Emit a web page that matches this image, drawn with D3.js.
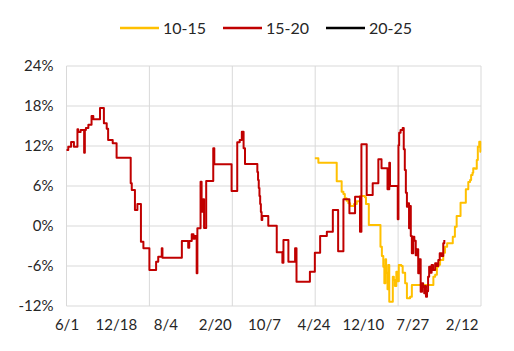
<!DOCTYPE html>
<html>
<head>
<meta charset="utf-8">
<script src="https://cdn.jsdelivr.net/npm/d3@7"></script>
<style>
  body { margin: 0; background: #fff; }
  text { font-family: Lato, "Open Sans", sans-serif; fill: #262626; }
</style>
</head>
<body>
<div id="chart"></div>
<script>
// trading-day category axis
const dayCount = 1176;
const tickLabels = ["6/1", "12/18", "8/4", "2/20", "10/7", "4/24", "12/10", "7/27", "2/12"];
const labelEvery = 140;
const gridEvery = 235;
const yTicks = [-12, -6, 0, 6, 12, 18, 24];

const seriesNames = ["10-15", "15-20", "20-25"];
const seriesColors = ["#FFC000", "#C00000", "#000000"];

// [day index, value %] - value holds until the next point
const s1015 = [
  [704, 10.15], [714, 9.5], [766, 6.7], [780, 5.15], [785, 4.8], [789, 4.15], [794, 3.8],
  [799, 3.4], [804, 3.0], [815, 3.3], [823, 3.7], [832, 4.5], [846, 4.3], [849, 3.3],
  [857, 0.15], [890, -3.1], [894, -4.5], [898, -6.1], [901, -8.6], [904, -5.0], [906, -7.0],
  [910, -9.5], [912, -5.85], [915, -11.35], [925, -7.6], [928, -8.1], [931, -9.0],
  [935, -6.85], [938, -8.3], [942, -5.85], [949, -6.0], [953, -7.0], [960, -8.6],
  [965, -10.85], [974, -10.6], [979, -8.85], [1040, -7.6], [1045, -7.3], [1050, -6.1],
  [1054, -5.8], [1059, -5.1], [1068, -4.0], [1073, -3.1], [1079, -2.6], [1095, -1.6],
  [1101, -0.1], [1106, 1.5], [1117, 3.5], [1132, 5.5], [1139, 6.6], [1144, 6.9],
  [1147, 7.65], [1151, 8.0], [1153, 8.65], [1158, 8.6], [1163, 9.9], [1166, 11.9],
  [1170, 12.65], [1173, 11.15], [1175, 11.15]
];

const s1520 = [
  [0, 11.4], [5, 11.9], [13, 12.6], [21, 11.9], [31, 14.5], [33, 14.1], [40, 14.4],
  [50, 11.0], [52, 14.4], [55, 14.7], [62, 15.2], [71, 16.5], [76, 16.0], [95, 17.7],
  [106, 15.4], [114, 14.6], [118, 12.9], [131, 12.4], [142, 10.25], [182, 6.4], [185, 5.4],
  [194, 2.4], [201, 3.3], [211, -2.35], [218, -3.35], [235, -6.6], [254, -5.35],
  [260, -4.6], [270, -3.35], [272, -4.75], [327, -2.25], [345, -3.25], [348, -2.25],
  [355, -1.25], [360, -1.9], [364, -1.5], [369, -7.1], [371, -0.35], [380, 6.65],
  [383, 2.15], [387, 4.0], [390, -0.3], [396, 6.75], [416, 11.65], [419, 9.25],
  [468, 5.25], [484, 12.55], [491, 12.9], [497, 14.15], [502, 11.65], [506, 9.3],
  [541, 8.1], [543, 6.9], [545, 5.7], [547, 4.5], [549, 3.3], [551, 2.1], [553, 0.9],
  [555, 1.5], [572, 0.05], [596, -3.95], [612, -5.5], [615, -2.1], [629, -5.35],
  [648, -3.35], [652, -8.35], [690, -6.85], [704, -4.0], [719, -1.5], [738, -0.85],
  [755, 2.4], [770, -3.8], [785, 4.0], [802, 1.9], [818, 4.4], [832, -0.85], [836, 12.25],
  [851, 4.65], [868, 6.4], [884, 10.0], [893, 8.65], [910, 5.5], [915, 9.5], [917, 6.0],
  [939, 1.0], [941, 12.1], [943, 14.0], [947, 14.4], [953, 14.7], [956, 11.5], [959, 8.4],
  [962, 5.0], [965, 2.9], [968, 3.4], [971, -0.35], [973, 3.0], [976, -1.5], [979, -4.1],
  [983, -1.6], [986, -2.2], [990, -4.4], [993, -3.5], [997, -7.1], [1000, -5.0],
  [1004, -9.85], [1008, -8.6], [1011, -9.1], [1014, -10.1], [1016, -9.0], [1019, -10.6],
  [1022, -9.8], [1025, -7.6], [1028, -6.1], [1032, -7.0], [1035, -5.85], [1039, -6.6],
  [1045, -5.6], [1049, -6.0], [1054, -5.1], [1058, -4.1], [1063, -4.5], [1068, -2.6],
  [1071, -2.1]
];

const s2025 = [];

const width = 514;
const height = 351;
const plotLeft = 66.5, plotRight = 481, plotTop = 66, plotBottom = 306;

const svg = d3.select('#chart')
  .append('svg')
  .attr('width', width)
  .attr('height', height);

const x = d3.scaleLinear()
  .domain([0, dayCount - 1])
  .range([plotLeft, plotRight]);

const y = d3.scaleLinear()
  .domain([-12, 24])
  .range([plotBottom, plotTop]);

// gridlines
svg.append('g')
  .selectAll('line')
  .data(yTicks)
  .enter()
  .append('line')
  .attr('x1', plotLeft)
  .attr('x2', plotRight)
  .attr('y1', d => y(d))
  .attr('y2', d => y(d))
  .attr('stroke', '#d9d9d9')
  .attr('stroke-width', 1);

svg.append('g')
  .selectAll('line')
  .data(d3.range(0, dayCount, gridEvery))
  .enter()
  .append('line')
  .attr('x1', d => x(d))
  .attr('x2', d => x(d))
  .attr('y1', plotTop)
  .attr('y2', plotBottom)
  .attr('stroke', '#d9d9d9')
  .attr('stroke-width', 1);

// axes
const xAxis = d3.axisBottom(x)
  .tickValues(tickLabels.map((d, i) => i * labelEvery))
  .tickFormat((d, i) => tickLabels[i])
  .tickSize(0)
  .tickPadding(13);

svg.append('g')
  .attr('transform', `translate(0, ${plotBottom})`)
  .call(xAxis)
  .call(g => g.select('.domain').remove())
  .selectAll('text')
  .style('font-size', '15px')
  .attr('fill', '#262626');

const yAxis = d3.axisLeft(y)
  .tickValues(yTicks)
  .tickFormat(d => d + '%')
  .tickSize(0)
  .tickPadding(13);

svg.append('g')
  .attr('transform', `translate(${plotLeft}, 0)`)
  .call(yAxis)
  .call(g => g.select('.domain').remove())
  .selectAll('text')
  .style('font-size', '15px')
  .attr('fill', '#262626');

// series
const line = d3.line()
  .x(d => x(d[0]))
  .y(d => y(d[1]))
  .curve(d3.curveStepAfter);

[s1015, s1520, s2025].forEach((s, i) => {
  if (!s.length) return;
  svg.append('path')
    .datum(s)
    .attr('d', line)
    .attr('fill', 'none')
    .attr('stroke', seriesColors[i])
    .attr('stroke-width', 2)
    .attr('stroke-linejoin', 'round');
});

// legend
const legend = svg.append('g')
  .selectAll('g')
  .data(seriesNames)
  .enter()
  .append('g')
  .attr('transform', (d, i) => `translate(${120 + i * 103}, 28)`);

legend.append('line')
  .attr('x1', 0)
  .attr('x2', 39)
  .attr('stroke', (d, i) => seriesColors[i])
  .attr('stroke-width', 2.5);

legend.append('text')
  .attr('x', 43)
  .attr('dy', '0.36em')
  .style('font-size', '16px')
  .text(d => d);
</script>
</body>
</html>
